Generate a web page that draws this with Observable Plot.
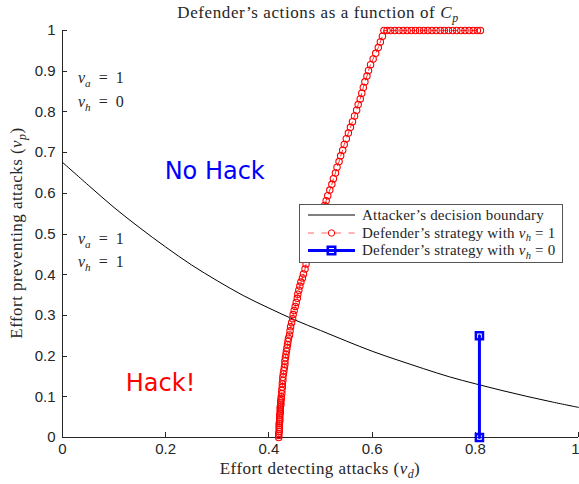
<!DOCTYPE html>
<html><head><meta charset="utf-8">
<script src="https://cdn.jsdelivr.net/npm/d3@7"></script>
<script src="https://cdn.jsdelivr.net/npm/@observablehq/plot@0.6"></script>
<style>body{margin:0;background:#fff} svg{display:block}</style>
</head><body><div id="chart"></div>
<script>
// ---- data ----
const xTicks = [0, 0.2, 0.4, 0.6, 0.8, 1];
const xTickLabels = ["0", "0.2", "0.4", "0.6", "0.8", "1"];
const yTicks = [0, 0.1, 0.2, 0.3, 0.4, 0.5, 0.6, 0.7, 0.8, 0.9, 1];
const yTickLabels = ["0", "0.1", "0.2", "0.3", "0.4", "0.5", "0.6", "0.7", "0.8", "0.9", "1"];

// Attacker's decision boundary
const boundaryVd = [0, 0.05, 0.1, 0.15, 0.2, 0.25, 0.3, 0.35, 0.4, 0.45, 0.5, 0.55, 0.6, 0.65, 0.7, 0.75, 0.8, 0.85, 0.9, 0.95, 1];
const boundaryVp = [0.676, 0.620, 0.565, 0.515, 0.468, 0.424, 0.385, 0.349, 0.318, 0.289, 0.263, 0.237, 0.212, 0.190, 0.169, 0.149, 0.132, 0.116, 0.101, 0.087, 0.074];

// Defender's strategy with v_h = 1
const strat1Vd = [
  0.419, 0.419, 0.419, 0.420, 0.420, 0.420, 0.420, 0.420, 0.421, 0.421, 0.421, 0.421, 0.422, 0.422, 0.422, 0.422, 0.423, 0.423, 0.423, 0.424, 0.424,
  0.425, 0.425, 0.426, 0.426, 0.427, 0.427, 0.428, 0.429, 0.430, 0.431, 0.431, 0.432, 0.433, 0.434, 0.435, 0.436, 0.437, 0.438,
  0.440, 0.441, 0.442, 0.444, 0.446, 0.447, 0.449, 0.451, 0.453, 0.455, 0.456, 0.458, 0.460, 0.462, 0.465, 0.467,
  0.470, 0.472, 0.475, 0.478, 0.481, 0.484, 0.487, 0.490, 0.493, 0.496, 0.499, 0.502, 0.505, 0.508, 0.511, 0.514,
  0.518, 0.522, 0.525, 0.529, 0.532, 0.536, 0.539, 0.543, 0.546, 0.550, 0.554, 0.558, 0.562, 0.566, 0.570, 0.573, 0.577, 0.580, 0.583, 0.586, 0.590, 0.593, 0.597, 0.602, 0.607, 0.612, 0.616, 0.620, 0.623,
  0.629, 0.636, 0.644, 0.652, 0.660, 0.668, 0.676, 0.684, 0.692, 0.700, 0.708, 0.716, 0.724, 0.732, 0.740, 0.748, 0.756, 0.764, 0.772, 0.780, 0.788, 0.796, 0.804, 0.810
];
const strat1Vp = [
  0.000, 0.005, 0.010, 0.015, 0.020, 0.025, 0.030, 0.035, 0.040, 0.045, 0.050, 0.055, 0.060, 0.065, 0.070, 0.075, 0.080, 0.085, 0.090, 0.095, 0.100,
  0.108, 0.116, 0.124, 0.132, 0.140, 0.148, 0.156, 0.164, 0.172, 0.180, 0.188, 0.196, 0.204, 0.212, 0.220, 0.228, 0.236, 0.244,
  0.252, 0.262, 0.272, 0.282, 0.292, 0.302, 0.312, 0.322, 0.332, 0.342, 0.352, 0.362, 0.372, 0.382, 0.392, 0.402,
  0.414, 0.426, 0.438, 0.450, 0.462, 0.474, 0.486, 0.498, 0.510, 0.522, 0.534, 0.546, 0.558, 0.570, 0.582, 0.594,
  0.608, 0.622, 0.636, 0.650, 0.664, 0.678, 0.692, 0.706, 0.720, 0.734, 0.748, 0.762, 0.776, 0.790, 0.804, 0.818, 0.832, 0.846, 0.860, 0.874, 0.888, 0.902, 0.916, 0.930, 0.944, 0.958, 0.972, 0.986, 1.000,
  1, 1, 1, 1, 1, 1, 1, 1, 1, 1, 1, 1, 1, 1, 1, 1, 1, 1, 1, 1, 1, 1, 1, 1
];

// Defender's strategy with v_h = 0
const strat0Vd = [0.808, 0.808];
const strat0Vp = [0, 0.25];

// ---- tables built from the arrays ----
const boundary = boundaryVd.map((v, i) => ({vd: v, vp: boundaryVp[i]}));
const strat1 = strat1Vd.map((v, i) => ({vd: v, vp: strat1Vp[i]}));
const strat0 = strat0Vd.map((v, i) => ({vd: v, vp: strat0Vp[i]}));

const AX = "#262626";
const SERIF = "'Liberation Serif', serif";

const plot = Plot.plot({
  width: 579, height: 484,
  marginLeft: 62, marginRight: 1, marginTop: 30, marginBottom: 47,
  x: {domain: [0, 1]},
  y: {domain: [0, 1]},
  style: {fontFamily: "'Liberation Sans', sans-serif", fontSize: "15px", color: AX, background: "white", overflow: "visible"},
  marks: [
    Plot.axisX({ticks: xTicks, tickFormat: d => xTickLabels[xTicks.indexOf(d)], tickSize: 0, tickPadding: 6, label: null, fontSize: 15}),
    Plot.axisY({ticks: yTicks, tickFormat: d => yTickLabels[yTicks.indexOf(d)], tickSize: 0, tickPadding: 7, label: null, fontSize: 15}),
    Plot.ruleX([0], {stroke: AX, strokeWidth: 1}),
    Plot.ruleY([0], {stroke: AX, strokeWidth: 1}),
    Plot.line(boundary, {x: "vd", y: "vp", stroke: "black", strokeWidth: 1, curve: "catmull-rom"}),
    Plot.line(strat1, {x: "vd", y: "vp", stroke: "#ff0000", strokeWidth: 0.8, strokeDasharray: "6,4"}),
    Plot.dot(strat1, {x: "vd", y: "vp", r: 3.2, stroke: "#ff0000", strokeWidth: 1.1, fill: "none"}),
    Plot.line(strat0, {x: "vd", y: "vp", stroke: "#0000ff", strokeWidth: 3}),
    Plot.dot(strat0, {x: "vd", y: "vp", symbol: "square", r: 4, stroke: "#0000ff", strokeWidth: 2.5, fill: "none"}),
    Plot.text(["No Hack"], {x: 0.295, y: 0.636, text: d => d, fill: "#0000ff", fontSize: 24, fontFamily: "'DejaVu Sans', sans-serif", textAnchor: "middle", lineAnchor: "bottom"}),
    Plot.text(["Hack!"], {x: 0.19, y: 0.115, text: d => d, fill: "#ff0000", fontSize: 24, fontFamily: "'DejaVu Sans', sans-serif", textAnchor: "middle", lineAnchor: "bottom"})
  ]
});

document.getElementById("chart").appendChild(plot);

const svg = d3.select(plot);
const sx = plot.scale("x"), sy = plot.scale("y");

// keep the last x tick label ("1") inside the picture edge
svg.selectAll('g[aria-label="x-axis tick label"] text').filter(function () { return this.textContent === "1"; })
  .attr("dx", -3);

// inward tick marks placed with Plot's own scales
const tk = svg.append("g").attr("stroke", AX).attr("stroke-width", 1);
const y0 = sy.apply(0), x0 = sx.apply(0);
for (const t of xTicks) {
  const px = Math.round(sx.apply(t)) + 0.5;
  tk.append("line").attr("x1", px).attr("x2", px).attr("y1", y0).attr("y2", y0 - 5);
}
for (const t of yTicks) {
  const py = Math.round(sy.apply(t)) + 0.5;
  tk.append("line").attr("x1", x0).attr("x2", x0 + 5).attr("y1", py).attr("y2", py);
}

// ---- rich text (math with subscripts) ----
function rich(parent, parts, size, attrs) {
  const t = parent.append("text").attr("font-family", SERIF).attr("font-size", size)
    .attr("fill", AX).attr("text-anchor", "start");
  for (const k in attrs) t.attr(k, attrs[k]);
  let shifted = false;
  for (const p of parts) {
    const ts = t.append("tspan").text(p.t);
    if (p.i) ts.attr("font-style", "italic");
    if (p.sub) {
      ts.attr("font-size", size * 0.7).attr("dy", size * 0.25);
      shifted = true;
    } else if (shifted) {
      ts.attr("dy", -size * 0.25);
      shifted = false;
    }
  }
  return t;
}

const layer = svg.append("g");

// title
rich(layer, [{t: "Defender’s actions as a function of "}, {t: "C", i: true}, {t: "p", i: true, sub: true}], 17,
  {x: 318, y: 18, "text-anchor": "middle", "letter-spacing": "0.6px"});
// x label
rich(layer, [{t: "Effort detecting attacks ("}, {t: "v", i: true}, {t: "d", i: true, sub: true}, {t: ")"}], 17,
  {x: 320, y: 474, "text-anchor": "middle", "letter-spacing": "0.45px"});
// y label
rich(layer, [{t: "Effort preventing attacks ("}, {t: "v", i: true}, {t: "p", i: true, sub: true}, {t: ")"}], 17,
  {transform: "translate(22,233) rotate(-90)", "text-anchor": "middle", "letter-spacing": "0.45px"});

// region annotations
const ann = [
  {y: 0.870, s: "a", v: "1"},
  {y: 0.811, s: "h", v: "0"},
  {y: 0.474, s: "a", v: "1"},
  {y: 0.418, s: "h", v: "1"}
];
for (const a of ann) {
  rich(layer, [{t: "v", i: true}, {t: a.s, i: true, sub: true}, {t: "\u2002=\u2002" + a.v}], 16,
    {x: sx.apply(0.031), y: sy.apply(a.y)});
}

// legend
const lg = layer.append("g");
lg.append("rect").attr("x", 299.5).attr("y", 204.5).attr("width", 263).attr("height", 58)
  .attr("fill", "white").attr("stroke", "#555").attr("stroke-width", 1);
const rows = [215, 233, 250.5];
// row 1
lg.append("line").attr("x1", 308).attr("x2", 355).attr("y1", rows[0]).attr("y2", rows[0]).attr("stroke", "black").attr("stroke-width", 1);
rich(lg, [{t: "Attacker’s decision boundary"}], 15, {x: 362, y: rows[0] + 4.5, "letter-spacing": "0.2px"});
// row 2
lg.append("line").attr("x1", 308).attr("x2", 355).attr("y1", rows[1]).attr("y2", rows[1]).attr("stroke", "#ff0000").attr("stroke-width", 0.8).attr("stroke-dasharray", "6,7.5").attr("opacity", 0.75);
lg.append("circle").attr("cx", 331.5).attr("cy", rows[1]).attr("r", 3.2).attr("fill", "none").attr("stroke", "#ff0000").attr("stroke-width", 1);
rich(lg, [{t: "Defender’s strategy with "}, {t: "v", i: true}, {t: "h", i: true, sub: true}, {t: " = 1"}], 15, {x: 362, y: rows[1] + 4.5, "letter-spacing": "0.2px"});
// row 3
lg.append("line").attr("x1", 308).attr("x2", 355).attr("y1", rows[2]).attr("y2", rows[2]).attr("stroke", "#0000ff").attr("stroke-width", 3);
lg.append("rect").attr("x", 327.75).attr("y", rows[2] - 3.75).attr("width", 7.5).attr("height", 7.5).attr("fill", "none").attr("stroke", "#0000ff").attr("stroke-width", 2.5);
rich(lg, [{t: "Defender’s strategy with "}, {t: "v", i: true}, {t: "h", i: true, sub: true}, {t: " = 0"}], 15, {x: 362, y: rows[2] + 4.5, "letter-spacing": "0.2px"});
</script>
</body></html>
